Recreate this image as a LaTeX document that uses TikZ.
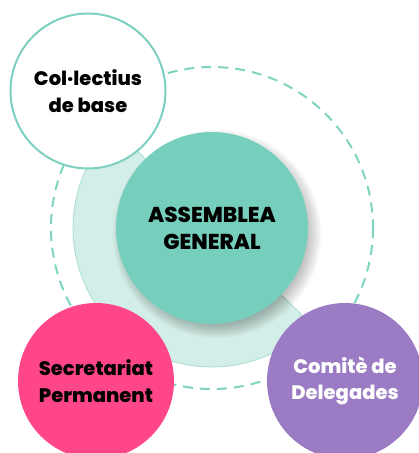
\documentclass[tikz,border=0pt]{standalone}
\usepackage{fontspec}
\setmainfont{Poppins}[BoldFont={Poppins ExtraBold}]
\usetikzlibrary{calc}
\definecolor{dashcol}{HTML}{7FD3C1}
\definecolor{palecol}{HTML}{D3EEE8}
\definecolor{paleedge}{HTML}{A9DDD1}
\definecolor{maincol}{HTML}{76CFBC}
\definecolor{ringcol}{HTML}{7DD0BF}
\definecolor{pinkcol}{HTML}{FE4688}
\definecolor{purplecol}{HTML}{9B7BC3}
\tikzset{
  circ/.style={circle, inner sep=0pt, align=center, font=\bfseries\fontsize{19.5}{26.5}\selectfont, text=black},
}
\begin{document}
\begin{tikzpicture}[x=1pt,y=-1pt]
\useasboundingbox (0,0) rectangle (419,453);
\clip (0,0) rectangle (419,453);
\coordinate (c) at (212,228);
% dashed ring
\draw[dashcol, line width=2pt, dash pattern=on 10pt off 7pt] (c) circle[radius=161];
% pale half disk
\filldraw[fill=palecol, draw=paleedge, line width=0.8pt] (c) -- ($(c)+(-134:139)$) arc[start angle=-134, end angle=-316, radius=139] -- cycle;
% shadow of main circle
\foreach \i in {0,...,11} {
  \fill[black, opacity=0.025] ($(c)+(5,6)$) circle[radius=90+\i*1.3];
}
\node[circ, fill=maincol, minimum size=192pt, font=\bfseries\fontsize{21.5}{27}\selectfont] (ag) at (c) {ASSEMBLEA\\GENERAL};
\node[circ, draw=ringcol, line width=2pt, fill=white, minimum size=155pt] (cb) at (88,91) {Col·lectius\\de base};
\node[circ, fill=pinkcol, minimum size=156pt] (sp) at (96,381) {Secretariat\\Permanent};
\node[circ, fill=purplecol, text=white, minimum size=156pt] (cd) at (345,381) {Comitè de\\Delegades};
\end{tikzpicture}
\end{document}
